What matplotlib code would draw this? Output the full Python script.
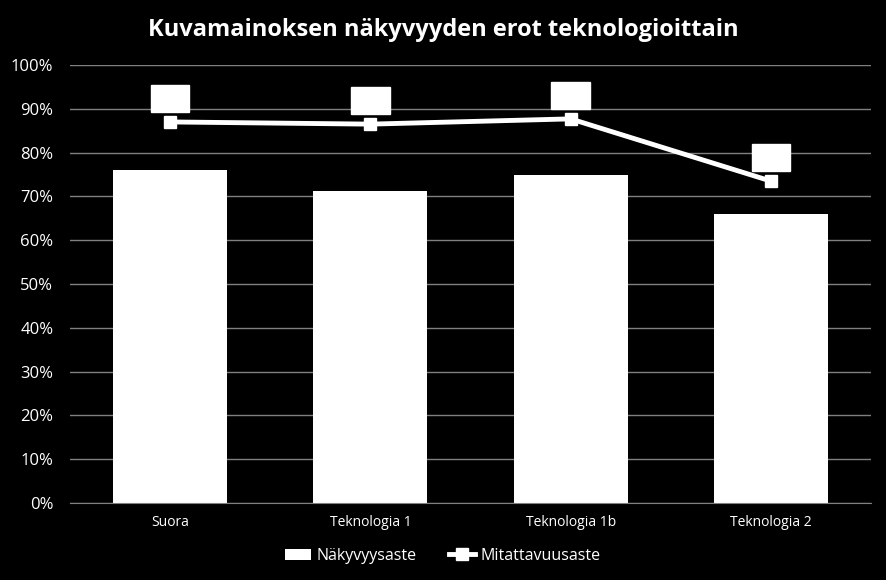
import matplotlib.pyplot as plt
import numpy as np
from matplotlib.ticker import PercentFormatter

categories = ['Suora', 'Teknologia 1', 'Teknologia 1b', 'Teknologia 2']
nakyvyys = [76.0, 71.2, 74.9, 66.0]
mitattavuus = [87.0, 86.5, 87.7, 73.5]
title = 'Kuvamainoksen näkyvyyden erot teknologioittain'

plt.rcParams['font.family'] = ['Open Sans', 'DejaVu Sans']

fig = plt.figure(figsize=(8.86, 5.8), dpi=100, facecolor='black')
ax = fig.add_axes([70 / 886, 77 / 580, 801 / 886, 438 / 580])
ax.set_facecolor('black')

x = np.arange(len(categories))
bars = ax.bar(x, nakyvyys, width=0.57, color='white', zorder=2, label='Näkyvyysaste')
line, = ax.plot(x, mitattavuus, color='white', lw=3.5, marker='s', markersize=9,
                markerfacecolor='white', markeredgecolor='white', zorder=3,
                label='Mitattavuusaste')

# data label boxes (white on white)
for xi, v in zip(x, mitattavuus):
    ax.annotate(f'{v:.0f}%', (xi, v), xytext=(0, 17), textcoords='offset points',
                ha='center', va='center', color='white', fontsize=9,
                bbox=dict(boxstyle='square,pad=0.55', fc='white', ec='white'),
                zorder=4)

ax.set_xlim(-0.5, len(categories) - 0.5)
ax.set_ylim(0, 100)
ax.set_yticks(np.arange(0, 101, 10))
ax.yaxis.set_major_formatter(PercentFormatter(decimals=0))
ax.set_xticks(x)
ax.set_xticklabels(categories)
ax.grid(axis='y', color='#808080', lw=1, zorder=0)
for s in ['top', 'right', 'left']:
    ax.spines[s].set_visible(False)
ax.spines['bottom'].set_color('#808080')
ax.tick_params(axis='y', length=0, colors='white', labelsize=12, pad=12)
ax.tick_params(axis='x', length=0, colors='white', labelsize=10, pad=9)

fig.text(0.5, 1 - 30 / 580, title, ha='center', va='center', color='white',
         fontsize=17, fontweight='bold')

fig.legend([bars, line], ['Näkyvyysaste', 'Mitattavuusaste'], loc='center',
           bbox_to_anchor=(0.5, 1 - 556 / 580), ncol=2, frameon=False,
           fontsize=11.5, labelcolor='white', handlelength=1.6,
           handletextpad=0.4, columnspacing=2.0)

fig.savefig('out.png', dpi=100, facecolor='black')
